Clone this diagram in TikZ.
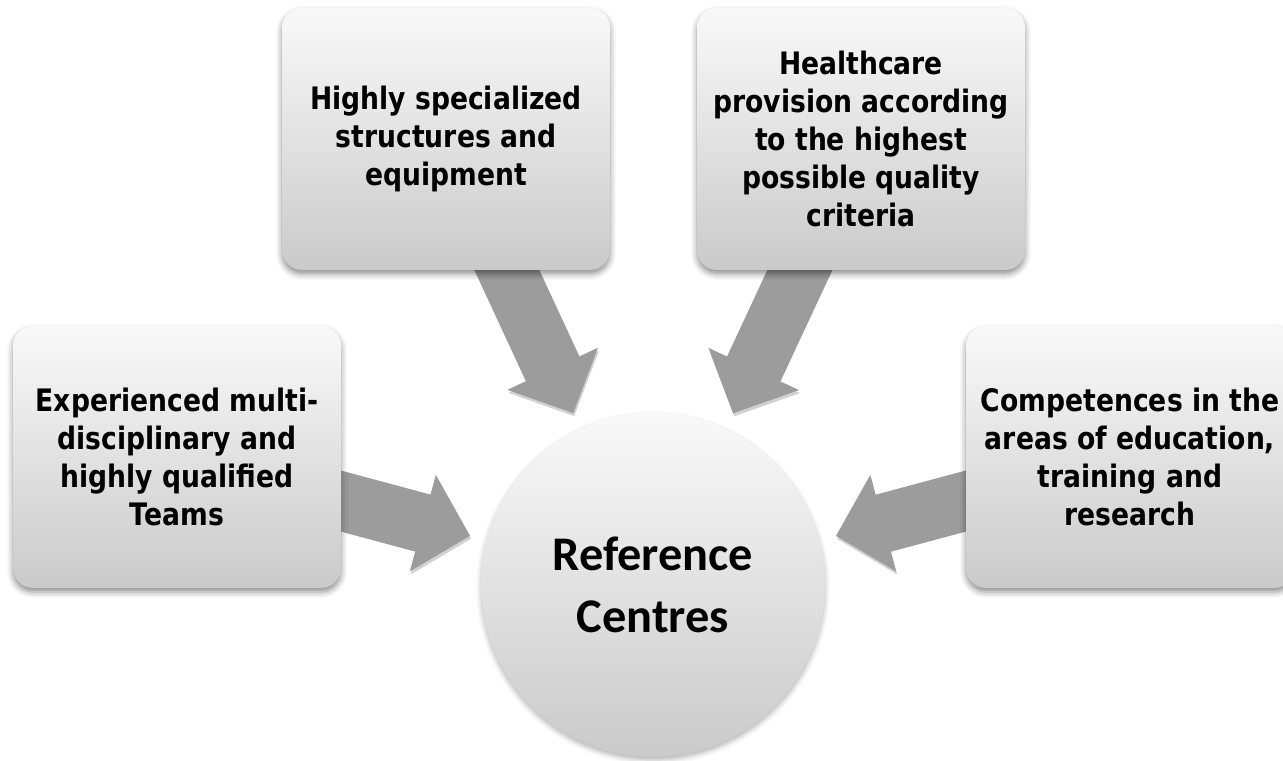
\documentclass[tikz,border=0pt]{standalone}
\usepackage{fontspec}
\setmainfont{DejaVu Sans}[FakeStretch=0.86]
\newfontfamily\centrefont{Carlito}
\usetikzlibrary{shapes,arrows.meta,backgrounds,shadows.blur}

\definecolor{boxtop}{HTML}{F9F9F9}
\definecolor{boxbottom}{HTML}{CACACA}
\definecolor{arrowgray}{HTML}{9C9C9C}

\begin{document}
\begin{tikzpicture}
		\tikzstyle {info box} = [rectangle, rounded corners=0.4cm, minimum width=6.56cm, minimum height=5.24cm, inner sep=0.1cm,
			top color=boxtop, bottom color=boxbottom, align=center,
			font=\fontsize{17.6}{21.6}\selectfont\bfseries,
			blur shadow={shadow xshift=0pt, shadow yshift=-0.08cm, shadow blur radius=0.12cm, shadow opacity=45}]
		\tikzstyle {centre node} = [circle, minimum size=6.88cm, inner sep=0pt,
			top color=boxtop, bottom color=boxbottom, align=center,
			font=\centrefont\fontsize{27.5}{35}\selectfont\bfseries,
			blur shadow={shadow xshift=0pt, shadow yshift=-0.06cm, shadow blur radius=0.1cm, shadow opacity=30}]
		\tikzstyle {feed arrow} = [line width=1.18cm, draw=arrowgray, -{Triangle[width=1.94cm, length=0.98cm]}, shorten >=0.34cm,
			preaction={draw=black!18, transform canvas={xshift=0.02cm, yshift=-0.06cm}}]

		\useasboundingbox (0,0) rectangle (25.66,15.22);

		\node[info box] (struct) at (8.92, 12.44) {Highly specialized\\structures and\\equipment};
		\node[info box] (quality) at (17.22, 12.44) {Healthcare\\provision according\\to the highest\\possible quality\\criteria};
		\node[info box] (teams) at (3.54, 6.08) {Experienced multi-\\disciplinary and\\highly qualified\\Teams};
		\node[info box] (research) at (22.60, 6.08) {Competences in the\\areas of education,\\training and\\research};

		\node[centre node] (centre) at (13.06, 3.52) {Reference\\Centres};

		% block arrows sit behind the boxes
		\begin{scope}[on background layer]
			\foreach \src in {struct, quality, teams, research}
				\draw[feed arrow] (\src.center) -- (centre);
		\end{scope}
	\end{tikzpicture}
\end{document}
